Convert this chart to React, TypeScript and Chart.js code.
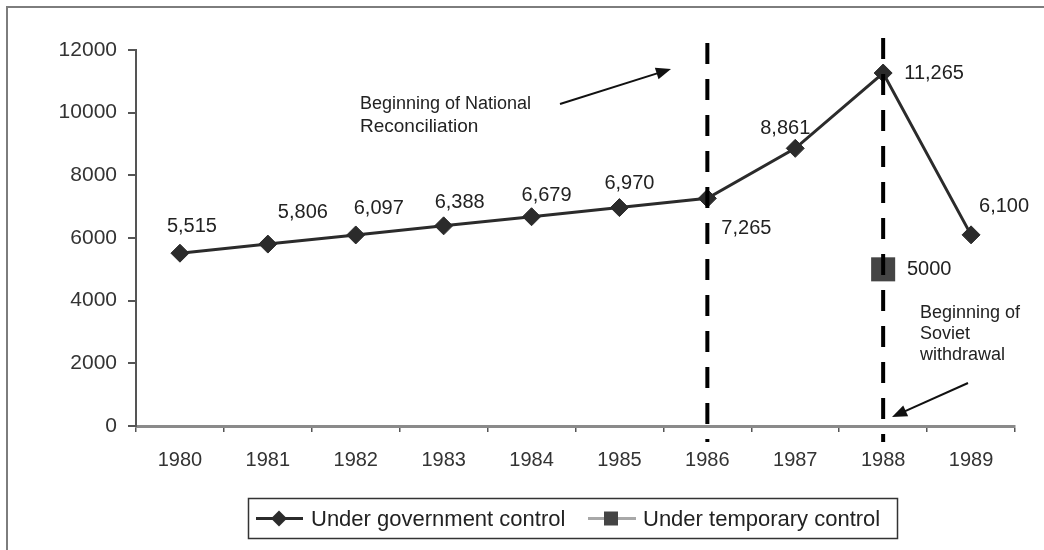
import React, { useEffect, useRef } from 'react';
import { Chart, registerables } from 'chart.js';

Chart.register(...registerables);

// ---- data ----
const years = ['1980', '1981', '1982', '1983', '1984', '1985', '1986', '1987', '1988', '1989'];
const governmentControl = [5515, 5806, 6097, 6388, 6679, 6970, 7265, 8861, 11265, 6100];
const temporaryControl = [null, null, null, null, null, null, null, null, 5000, null];
const seriesNames = ['Under government control', 'Under temporary control'];
const yMin = 0;
const yMax = 12000;
const yStep = 2000;
const markerYears = ['1986', '1988'];
const reconciliationNote = ['Beginning of National', 'Reconciliation'];
const withdrawalNote = ['Beginning of', 'Soviet', 'withdrawal'];

// ---- styling (label offsets in px relative to points) ----
const govLabelOffsets = [
  [12, -27], [35, -32], [23, -26], [16, -23], [15, -21],
  [10, -24], [39, 30], [-10, -20], [51, 0], [33, -28],
];
const tempLabelOffset = [46, 0];
const FONT = '"Liberation Sans", Arial, sans-serif';
const TEXT = '#222222';
const LINE = '#2b2b2b';

function drawArrow(ctx: CanvasRenderingContext2D, x1: number, y1: number, x2: number, y2: number) {
  const ang = Math.atan2(y2 - y1, x2 - x1);
  const hl = 15;
  const hw = 6;
  ctx.save();
  ctx.strokeStyle = '#111';
  ctx.fillStyle = '#111';
  ctx.lineWidth = 2;
  ctx.beginPath();
  ctx.moveTo(x1, y1);
  ctx.lineTo(x2 - Math.cos(ang) * hl * 0.8, y2 - Math.sin(ang) * hl * 0.8);
  ctx.stroke();
  ctx.beginPath();
  ctx.moveTo(x2, y2);
  ctx.lineTo(x2 - Math.cos(ang) * hl + Math.sin(ang) * hw, y2 - Math.sin(ang) * hl - Math.cos(ang) * hw);
  ctx.lineTo(x2 - Math.cos(ang) * hl - Math.sin(ang) * hw, y2 - Math.sin(ang) * hl + Math.cos(ang) * hw);
  ctx.closePath();
  ctx.fill();
  ctx.restore();
}

const decorPlugin = {
  id: 'decor',
  beforeDraw(chart: any) {
    const ctx = chart.ctx as CanvasRenderingContext2D;
    ctx.save();
    ctx.fillStyle = '#ffffff';
    ctx.fillRect(0, 0, chart.width, chart.height);
    ctx.strokeStyle = '#7d7d7d';
    ctx.lineWidth = 2;
    ctx.beginPath();
    ctx.moveTo(7, chart.height);
    ctx.lineTo(7, 7);
    ctx.lineTo(chart.width, 7);
    ctx.stroke();
    ctx.restore();
  },
  afterDatasetsDraw(chart: any) {
    const ctx = chart.ctx as CanvasRenderingContext2D;
    const xs = chart.scales.x;
    const area = chart.chartArea;

    // dashed vertical markers
    const tops = [area.top - 7, area.top - 12];
    ctx.save();
    ctx.strokeStyle = '#000';
    ctx.lineWidth = 4;
    ctx.setLineDash([21, 15]);
    markerYears.forEach((yr, i) => {
      const x = xs.getPixelForValue(years.indexOf(yr));
      ctx.beginPath();
      ctx.moveTo(x, tops[i]);
      ctx.lineTo(x, area.bottom + 16);
      ctx.stroke();
    });
    ctx.restore();

    // data labels
    ctx.save();
    ctx.fillStyle = TEXT;
    ctx.font = `20px ${FONT}`;
    ctx.textAlign = 'center';
    ctx.textBaseline = 'middle';
    const m0 = chart.getDatasetMeta(0);
    m0.data.forEach((pt: any, i: number) => {
      const v = governmentControl[i];
      if (v == null) return;
      const [dx, dy] = govLabelOffsets[i];
      ctx.fillText(v.toLocaleString('en-US'), pt.x + dx, pt.y + dy);
    });
    const m1 = chart.getDatasetMeta(1);
    m1.data.forEach((pt: any, i: number) => {
      const v = temporaryControl[i];
      if (v == null) return;
      ctx.fillText(String(v), pt.x + tempLabelOffset[0], pt.y + tempLabelOffset[1]);
    });
    ctx.restore();

    // annotations
    ctx.save();
    ctx.fillStyle = TEXT;
    ctx.textAlign = 'left';
    ctx.textBaseline = 'middle';
    ctx.font = `18px ${FONT}`;
    ctx.fillText(reconciliationNote[0], 360, 104);
    ctx.font = `19px ${FONT}`;
    ctx.fillText(reconciliationNote[1], 360, 127);
    ctx.font = `18px ${FONT}`;
    withdrawalNote.forEach((t, i) => ctx.fillText(t, 920, 313 + i * 21));
    ctx.restore();
    drawArrow(ctx, 560, 104, 671, 69);
    drawArrow(ctx, 968, 383, 892, 417);

    // legend
    ctx.save();
    ctx.strokeStyle = '#333';
    ctx.lineWidth = 1.5;
    ctx.strokeRect(248.5, 498.5, 649, 40);
    const ly = 518.5;
    ctx.strokeStyle = LINE;
    ctx.lineWidth = 3;
    ctx.beginPath();
    ctx.moveTo(256, ly);
    ctx.lineTo(303, ly);
    ctx.stroke();
    ctx.fillStyle = LINE;
    ctx.beginPath();
    ctx.moveTo(279, ly - 8);
    ctx.lineTo(287, ly);
    ctx.lineTo(279, ly + 8);
    ctx.lineTo(271, ly);
    ctx.closePath();
    ctx.fill();
    ctx.strokeStyle = '#a8a8a8';
    ctx.beginPath();
    ctx.moveTo(588, ly);
    ctx.lineTo(636, ly);
    ctx.stroke();
    ctx.fillStyle = '#444';
    ctx.fillRect(604, ly - 7, 14, 14);
    ctx.fillStyle = TEXT;
    ctx.font = `22px ${FONT}`;
    ctx.textAlign = 'left';
    ctx.textBaseline = 'middle';
    ctx.fillText(seriesNames[0], 311, ly + 1);
    ctx.fillText(seriesNames[1], 643, ly + 1);
    ctx.restore();
  },
};

export default function App() {
  const ref = useRef<HTMLCanvasElement | null>(null);
  useEffect(() => {
    if (!ref.current) return;
    const chart = new Chart(ref.current, {
      type: 'line',
      data: {
        labels: years,
        datasets: [
          {
            label: seriesNames[0],
            data: governmentControl,
            borderColor: LINE,
            backgroundColor: LINE,
            borderWidth: 3,
            pointStyle: 'rectRot',
            pointRadius: 9,
            pointBorderWidth: 1,
            pointBackgroundColor: LINE,
            pointBorderColor: LINE,
            tension: 0,
          },
          {
            label: seriesNames[1],
            data: temporaryControl,
            borderColor: '#a8a8a8',
            backgroundColor: '#444',
            borderWidth: 3,
            pointStyle: 'rect',
            pointRadius: 17,
            pointBorderWidth: 0,
            pointBackgroundColor: '#444',
            pointBorderColor: '#444',
            showLine: false,
          },
        ],
      },
      options: {
        responsive: false,
        animation: false,
        events: [],
        layout: { padding: { left: 20, top: 50, right: 29, bottom: 10 } },
        plugins: {
          legend: { display: false },
          tooltip: { enabled: false },
          title: { display: false },
        },
        scales: {
          x: {
            type: 'category',
            offset: true,
            afterFit: (s: any) => { s.height = 114; },
            grid: {
              display: true,
              offset: true,
              drawOnChartArea: false,
              drawTicks: true,
              tickLength: 6,
              color: '#555',
              lineWidth: 1.5,
            },
            border: { display: true, color: '#8a8a8a', width: 3 },
            ticks: {
              color: '#333',
              font: { family: FONT, size: 20 },
              padding: 16,
              maxRotation: 0,
              autoSkip: false,
            },
          },
          y: {
            min: yMin,
            max: yMax,
            afterFit: (s: any) => { s.width = 116; },
            grid: {
              display: true,
              drawOnChartArea: false,
              drawTicks: true,
              tickLength: 8,
              color: '#555',
              lineWidth: 2,
            },
            border: { display: true, color: '#555', width: 2 },
            ticks: {
              stepSize: yStep,
              color: '#333',
              font: { family: FONT, size: 21 },
              padding: 11,
              callback: (v: any) => String(v),
            },
          },
        },
      },
      plugins: [decorPlugin],
    });
    return () => chart.destroy();
  }, []);
  return (
    <div style={{ position: 'absolute', left: 0, top: 0, width: 1044, height: 550, background: '#fff' }}>
      <canvas ref={ref} width={1044} height={550} style={{ display: 'block', width: 1044, height: 550 }} />
    </div>
  );
}
